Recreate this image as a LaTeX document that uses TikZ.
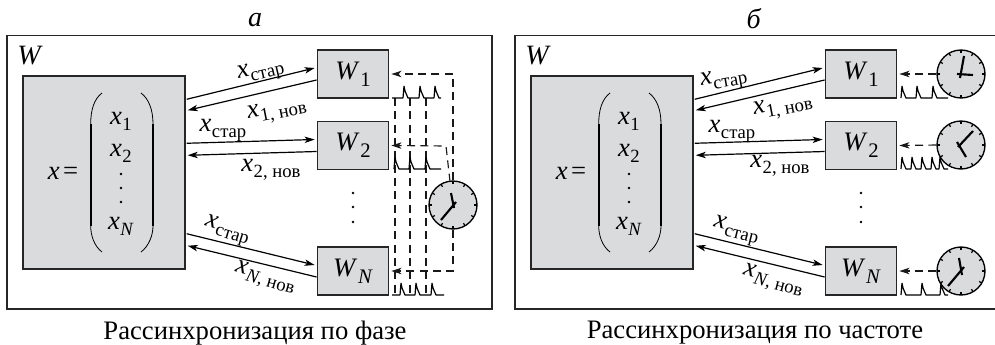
\documentclass[tikz,border=0pt]{standalone}
\usepackage{fontspec}
\setmainfont{Liberation Serif}
\usetikzlibrary{arrows.meta,calc}
\newcommand\bigtxt{\fontsize{20}{22}\selectfont}
\newcommand\subtxt{\fontsize{14}{15}\selectfont}
\newcommand\vx{\textit{x}}
\newcommand\low[1]{\raisebox{-.5ex}{\subtxt #1}}
\newcommand\xold{\vx\kern.3pt\low{стар}}
\newcommand\xnew[1]{\vx\kern.3pt\low{#1, нов}}
\newcommand\vW[1]{\textit{W}\kern.5pt\raisebox{-.55ex}{\fontsize{15.5}{16}\selectfont #1}}
\tikzset{
  x=.75pt,y=-.75pt,
  every node/.style={font=\bigtxt,inner sep=0pt},
  boxg/.style={draw=black!85,fill=boxgray,line width=1.1pt},
  wbox/.style={boxg,minimum width=53.5pt,minimum height=36pt},
  arr/.style={-{Stealth[length=7.5pt,width=4.8pt,inset=2pt]},line width=.9pt,black},
  dsh/.style={line width=.85pt,dash pattern=on 6pt off 4pt,black!90},
  dsha/.style={dsh,-{Stealth[length=7.5pt,width=4.8pt,inset=2pt]}},
  clockf/.style={draw=black,fill=boxgray,circle,line width=1pt,minimum size=36pt},
  hand/.style={line width=1.6pt,black},
  pulse/.style={line width=.9pt,black,line join=bevel},
  frm/.style={draw=black!85,line width=1.1pt},
}
\definecolor{boxgray}{HTML}{DADBDD}
\newcommand\spike[2]{(#1,#2) -- (#1+1,#2-12) -- (#1+2,#2-7) -- (#1+5,#2)}
\newcommand\ticks[1]{\foreach \a in {0,30,...,330}{\draw[line width=.9pt,black] ($(#1)+({24*cos(\a)},{24*sin(\a)})$) -- ($(#1)+({21*cos(\a)},{21*sin(\a)})$);}}
\newcommand\core{%
  \node[boxg,minimum width=121.5pt,minimum height=144.75pt] (big) at (104,172.5) {};
  \node[wbox] (W1) at (353,74) {\vW{1}};
  \node[wbox] (W2) at (353,145.5) {\vW{2}};
  \node[wbox] (WN) at (353,271) {\vW{\textit{N}}};
  \node (wl) at (30,56) {\fontsize{21}{21}\selectfont\textit{W}};
  \node (xeq) at (63,173) {\vx\kern2.5pt=};
  \node (e1) at (121,121) {\vx\kern.3pt\low{1}};
  \node (e2) at (121,153) {\vx\kern.3pt\low{2}};
  \node (eN) at (121,226) {\vx\kern.3pt\low{\textit{N}}};
  \foreach \yy in {174,188,202}{\fill[black] (121,\yy) circle (1.05pt);}
  \foreach \yy in {193,207,222}{\fill[black] (353,\yy) circle (1.05pt);}
  \draw[line width=.6pt] (102,93) .. controls (94,99) and (90.7,110) .. (90.7,124);
  \draw[line width=.6pt] (102,252) .. controls (94,246) and (90.7,235) .. (90.7,226);
  \draw[line width=1.3pt] (90.7,124) -- (90.7,226);
  \draw[line width=.6pt] (141,93) .. controls (149,99) and (153,110) .. (153,124);
  \draw[line width=.6pt] (141,252) .. controls (149,246) and (153,235) .. (153,226);
  \draw[line width=1.3pt] (153,124) -- (153,226);
  \draw[arr] ($(big.north east)+(1,24)$) -- ($(W1.west)+(-2,-6)$);
  \draw[arr] ($(W1.west)+(0,6)$) -- ($(big.north east)+(2,35)$);
  \draw[arr] ($(big.north east)+(1,68)$) -- ($(W2.west)+(-2,-6)$);
  \draw[arr] ($(W2.west)+(0,6)$) -- ($(big.north east)+(2,80)$);
  \draw[arr] ($(big.south east)+(1,-36)$) -- ($(WN.west)+(-2,-6)$);
  \draw[arr] ($(WN.west)+(0,6)$) -- ($(big.south east)+(2,-24)$);
}
\begin{document}
\begin{tikzpicture}
\useasboundingbox (0,0) rectangle (995,344);
% panel a
\node[font=\fontsize{21}{22}\selectfont] (ta) at (255,20) {\textit{а}};
\draw[frm] (7,35.5) rectangle (492,309);
\core
\node[rotate=13] (l1) at (261,72) {\xold};
\node[rotate=11] (l2) at (277,111) {\xnew{1}};
\node (l3) at (223,130) {\xold};
\node (l4) at (271,170) {\xnew{2}};
\node[rotate=-17] (l5) at (227,231) {\xold};
\node[rotate=-16] (l6) at (265,278) {\xnew{\textit{N}}};
\node[clockf] (ck) at (453,205) {};
\ticks{ck}
\draw[hand] (441,220) -- (456,202);
\draw[hand] (451,193) -- (454,208);
\coordinate (cU) at (450,181.5);
\coordinate (cK) at (446,146);
\draw[dsha] (ck.north) |- ($(W1.east)+(2,0)$);
\draw[dsha] (cU) -- (cK) -- ($(W2.east)+(2,0)$);
\draw[dsha] (ck.south) |- ($(WN.east)+(2,0)$);
\foreach \xx in {395,410,426}{\draw[dsh] (\xx,98) -- (\xx,295);}
\draw[pulse] (392,98) -- (403,98) \spike{403}{98} -- (419,98) \spike{419}{98} -- (434,98) \spike{434}{98} -- (441,98);
\draw[pulse] (394,169) \spike{394}{169} -- (409,169) \spike{409}{169} -- (425,169) \spike{425}{169} -- (441,169);
\draw[pulse] (392,295) -- (400,295) \spike{400}{295} -- (415,295) \spike{415}{295} -- (431,295) \spike{431}{295} -- (444,295);
\node (ca) at (255,333) {Рассинхронизация по фазе};
% panel b
\node[font=\fontsize{21}{22}\selectfont] (tb) at (754,19) {\textit{б}};
\draw[frm] (995,35.5) -- (515,35.5) -- (515,309) -- (995,309);
\begin{scope}[shift={(508,0)},name prefix=b-]
\core
\node[clockf] (c1) at (453,74) {};
\node[clockf] (c2) at (453,145) {};
\node[clockf] (c3) at (453,271) {};
\ticks{c1}\ticks{c2}\ticks{c3}
\draw[hand] (456,56) -- (452,78);
\draw[hand] (449,74) -- (465,75);
\draw[hand] (465,131) -- (450,147);
\draw[hand] (449,142) -- (458,157);
\draw[hand] (440,286) -- (456,267);
\draw[hand] (451,258) -- (454,275);
\draw[dsha] (c1.west) -- ($(W1.east)+(2,0)$);
\draw[dsha] (c2.west) -- ($(W2.east)+(2,0)$);
\draw[dsha] (c3.west) -- ($(WN.east)+(2,0)$);
\draw[pulse] (392,98) \spike{393}{98} -- (408,98) \spike{408}{98} -- (424,98) \spike{424}{98} -- (440,98);
\draw[pulse] (392,169) \spike{393}{169} -- (403,169) \spike{403}{169} -- (413,169) \spike{413}{169} -- (423,169) \spike{423}{169} -- (431,169) \spike{431}{169} -- (440,169);
\draw[pulse] (392,295) \spike{393}{295} -- (413,295) \spike{413}{295} -- (432,295) \spike{432}{295} -- (440,295);
\end{scope}
\node[rotate=10] (r1) at (724,80) {\xold};
\node[rotate=11] (r2) at (783,107) {\xnew{1}};
\node (r3) at (732,131) {\xold};
\node (r4) at (780,166) {\xnew{2}};
\node[rotate=-14] (r5) at (736,231) {\xold};
\node[rotate=-15] (r6) at (773,281) {\xnew{\textit{N}}};
\node (cb) at (755,333) {Рассинхронизация по частоте};
\end{tikzpicture}
\end{document}
